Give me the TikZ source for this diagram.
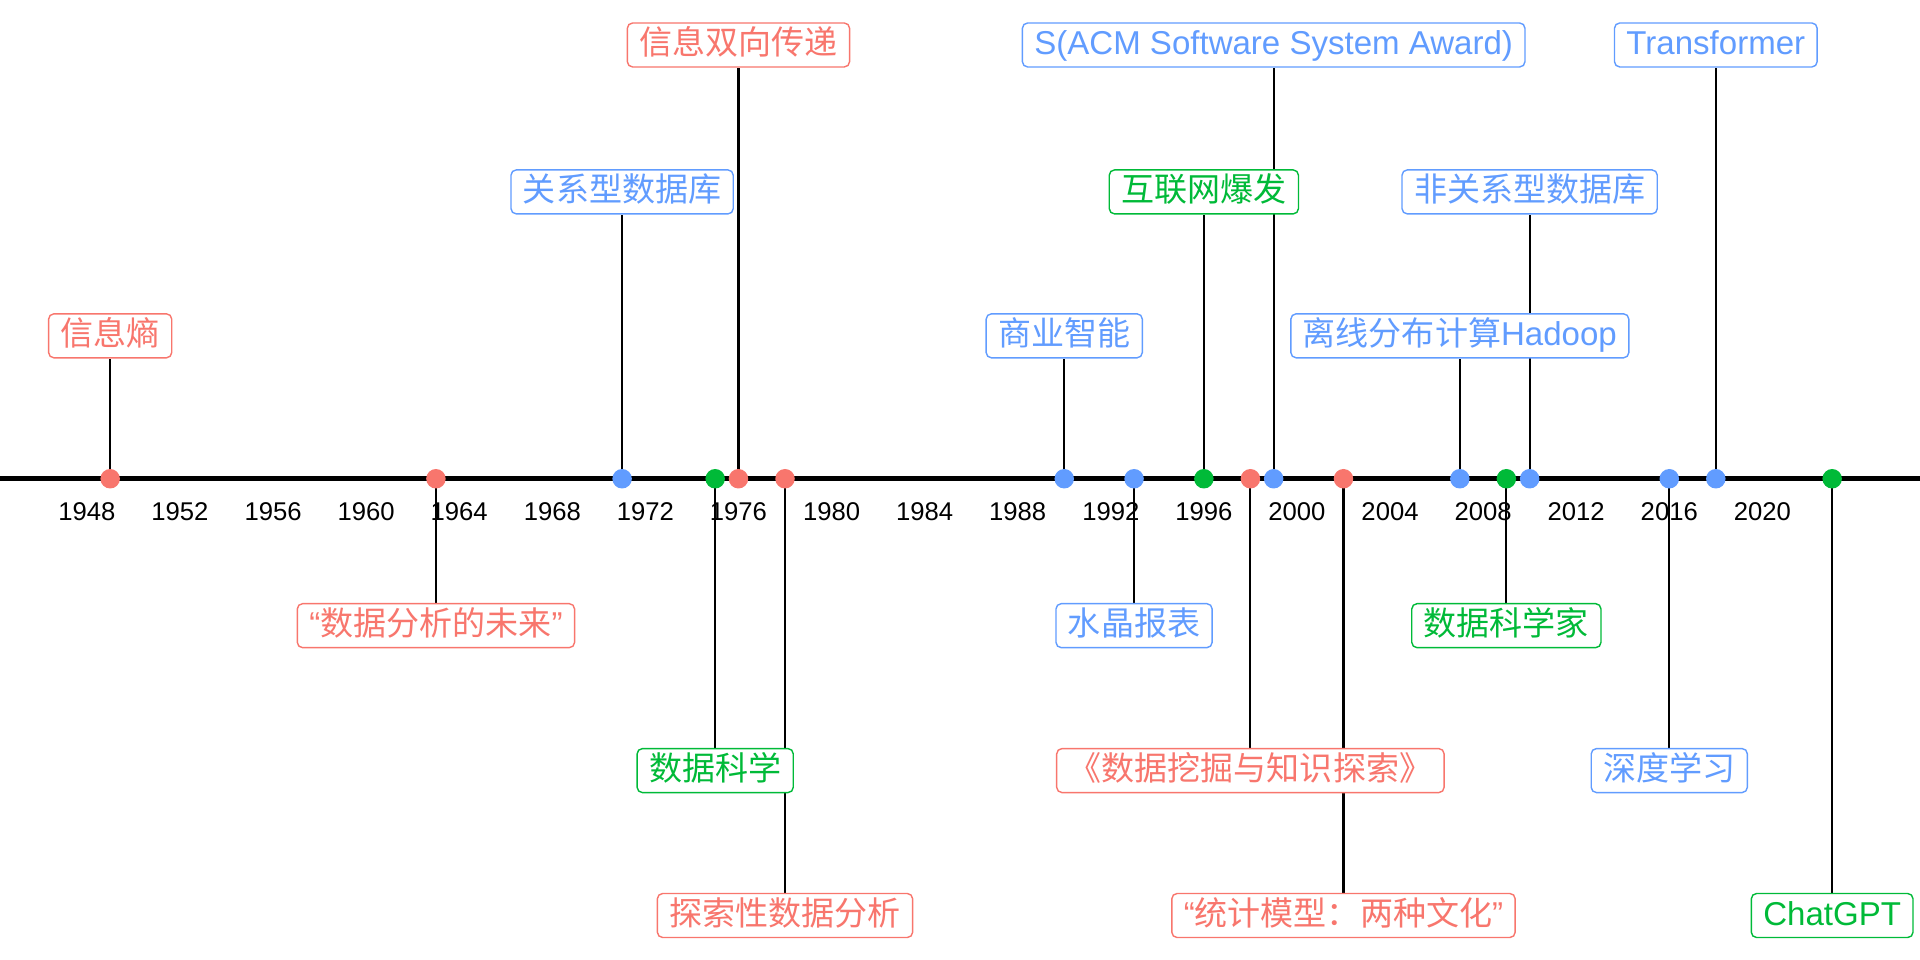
\documentclass[tikz,border=0pt]{standalone}
\usepackage{fontspec}
\setmainfont{Liberation Sans}
\newfontfamily\cjk{Noto Sans CJK SC}
\usetikzlibrary{backgrounds}
\definecolor{tred}{HTML}{F8766D}
\definecolor{tgreen}{HTML}{00BA38}
\definecolor{tblue}{HTML}{619CFF}

\begin{document}
\begin{tikzpicture}[x=0.2327cm,y=-0.01cm,
  evdot/.style={circle,fill=#1,inner sep=0pt,minimum size=0.195cm},
  event/.style={draw=#1,text=#1,fill=white,rounded corners=1.5pt,line width=0.4pt,
    inner xsep=0.12cm,inner ysep=0.055cm,text height=0.26cm,text depth=0.07cm,
    font=\fontsize{9.4}{11}\selectfont},
  link/.style={line width=0.6pt},
  yearlbl/.style={font=\fontsize{7.3}{9}\selectfont}]
\useasboundingbox (-3.734,0) rectangle (78.775,960);
\coordinate (axl) at (-3.734,479);
\coordinate (axr) at (78.775,479);

% years under the axis
\foreach \t in {1948,1952,...,2020}
  \node[yearlbl] at ({\t-1948},512) {\t};

% points on the axis
\node[evdot=tred] (p1) at (1,479) {};
\node[evdot=tred] (p2) at (15,479) {};
\node[evdot=tblue] (p3) at (23,479) {};
\node[evdot=tgreen] (p4) at (27,479) {};
\node[evdot=tred] (p5) at (28,479) {};
\node[evdot=tred] (p6) at (30,479) {};
\node[evdot=tblue] (p7) at (42,479) {};
\node[evdot=tblue] (p8) at (45,479) {};
\node[evdot=tgreen] (p9) at (48,479) {};
\node[evdot=tred] (p10) at (50,479) {};
\node[evdot=tblue] (p11) at (51,479) {};
\node[evdot=tred] (p12) at (54,479) {};
\node[evdot=tblue] (p13) at (59,479) {};
\node[evdot=tgreen] (p14) at (61,479) {};
\node[evdot=tblue] (p15) at (62,479) {};
\node[evdot=tblue] (p16) at (68,479) {};
\node[evdot=tblue] (p17) at (70,479) {};
\node[evdot=tgreen] (p18) at (75,479) {};

% labels
\node[event=tred] (t1) at (1,336) {\cjk 信息熵};
\node[event=tred] (t2) at (15,626) {“{\cjk 数据分析的未来}”};
\node[event=tblue] (t3) at (23,192) {\cjk 关系型数据库};
\node[event=tgreen] (t4) at (27,771) {\cjk 数据科学};
\node[event=tred] (t5) at (28,45) {\cjk 信息双向传递};
\node[event=tred] (t6) at (30,916) {\cjk 探索性数据分析};
\node[event=tblue] (t7) at (42,336) {\cjk 商业智能};
\node[event=tblue] (t8) at (45,626) {\cjk 水晶报表};
\node[event=tgreen] (t9) at (48,192) {\cjk 互联网爆发};
\node[event=tred] (t10) at (50,771) {\cjk 《数据挖掘与知识探索》};
\node[event=tblue] (t11) at (51,45) {S(ACM Software System Award)};
\node[event=tred] (t12) at (54,916) {“{\cjk 统计模型：两种文化}”};
\node[event=tblue] (t13) at (59,336) {{\cjk 离线分布计算}Hadoop};
\node[event=tgreen] (t14) at (61,626) {\cjk 数据科学家};
\node[event=tblue] (t15) at (62,192) {\cjk 非关系型数据库};
\node[event=tblue] (t16) at (68,771) {\cjk 深度学习};
\node[event=tblue] (t17) at (70,45) {Transformer};
\node[event=tgreen] (t18) at (75,916) {ChatGPT};

\begin{scope}[on background layer]
\draw[line width=1.4pt] (axl) -- (axr);
\foreach \i in {1,...,18}
  \draw[link] (p\i.center) -- (t\i);
\end{scope}
\end{tikzpicture}
\end{document}
